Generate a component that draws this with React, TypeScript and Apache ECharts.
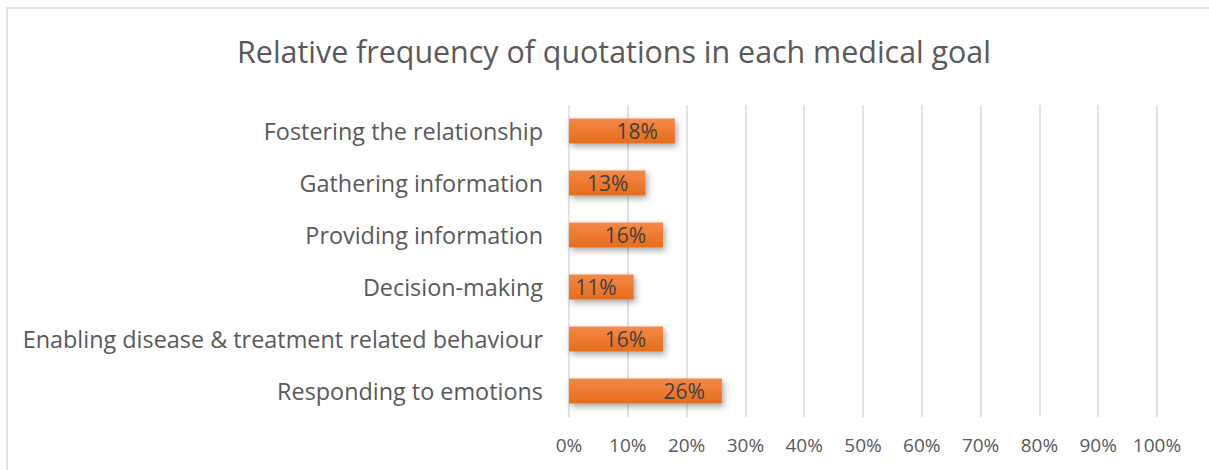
import React, { useEffect, useRef } from "react";
import * as echarts from "echarts";

const title = "Relative frequency of quotations in each medical goal";
const categories = [
  "Fostering the relationship",
  "Gathering information",
  "Providing information",
  "Decision-making",
  "Enabling disease & treatment related behaviour",
  "Responding to emotions",
];
const values = [18, 13, 16, 11, 16, 26];
const xTicks = [0, 10, 20, 30, 40, 50, 60, 70, 80, 90, 100];

const FONT = "'Open Sans', 'Noto Sans', sans-serif";

export default function App() {
  const ref = useRef<HTMLDivElement>(null);
  useEffect(() => {
    const chart = echarts.init(ref.current!, undefined, { renderer: "svg" });
    chart.setOption({
      animation: false,
      backgroundColor: "#ffffff",
      title: {
        text: title,
        left: 609,
        textAlign: "center",
        top: 31,
        textStyle: { fontFamily: FONT, fontSize: 30.4, fontWeight: "normal", color: "#595959" },
      },
      graphic: [
        {
          type: "rect",
          shape: { x: 7, y: 8, width: 1300, height: 600 },
          style: { fill: "none", stroke: "#d9d9d9", lineWidth: 1.5 },
          silent: true,
        },
      ],
      grid: { left: 569, right: 52, top: 105, bottom: 53 },
      xAxis: {
        type: "value",
        min: 0,
        max: 100,
        interval: 10,
        axisLine: { show: false },
        axisTick: { show: false },
        splitLine: { show: true, lineStyle: { color: "#d9d9d9", width: 1.5 } },
        axisLabel: {
          formatter: (v: number) => (xTicks.includes(v) ? v + "%" : ""),
          fontFamily: FONT,
          fontSize: 19,
          color: "#595959",
          margin: 18,
        },
      },
      yAxis: {
        type: "category",
        data: categories,
        inverse: true,
        axisLine: { show: false },
        axisTick: { show: false },
        axisLabel: { fontFamily: FONT, fontSize: 23.4, color: "#595959", margin: 26 },
      },
      series: [
        {
          type: "bar",
          data: values,
          barWidth: 25,
          itemStyle: {
            color: new echarts.graphic.LinearGradient(0, 0, 0, 1, [
              { offset: 0, color: "#F3894A" },
              { offset: 0.5, color: "#EE7A30" },
              { offset: 1, color: "#E46C1E" },
            ]),
            shadowColor: "rgba(0,0,0,0.35)",
            shadowBlur: 6,
            shadowOffsetX: 2,
            shadowOffsetY: 3,
          },
          label: {
            show: true,
            position: "insideRight",
            formatter: (p: any) => p.value + "%",
            fontFamily: FONT,
            fontSize: 21,
            color: "#404040",
            offset: [-12, 0],
          },
        },
      ],
    });
    return () => chart.dispose();
  }, []);
  return (
    <div
      ref={ref}
      style={{ position: "fixed", left: 0, top: 0, width: 1209, height: 470 }}
    />
  );
}
